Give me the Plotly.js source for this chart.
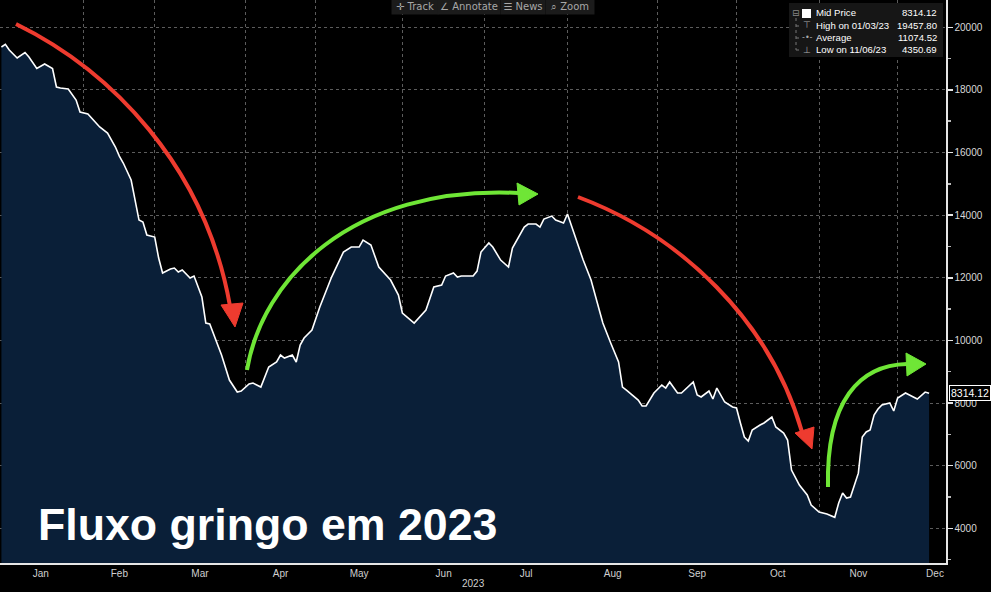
<!DOCTYPE html>
<html><head><meta charset="utf-8">
<script src="https://cdn.plot.ly/plotly-3.0.1.min.js"></script>
<style>html,body{margin:0;padding:0;background:#000;}#chart{width:991px;height:592px;}</style>
</head><body><div id="chart"></div>
<script>
// ---- data (x = B3 trading-day index of 2023, 0 = Jan 2) ----
const tradingDay = [1,2,3,5,7,8,10,12,14,15,16,18,20,21,23,26,28,30,31,32,34,35,36,37,38,40,41,42,44,45,46,47,49,50,51,52,53,54,57,59,61,62,64,65,67,69,71,72,73,75,76,77,78,80,82,85,88,90,92,93,95,97,100,102,103,106,109,111,113,114,116,117,118,121,122,123,125,126,128,130,131,134,135,137,138,139,141,142,144,145,147,149,151,154,156,158,159,160,163,164,165,167,169,170,171,173,174,177,178,179,181,182,183,185,187,188,189,190,191,192,194,195,197,198,200,201,202,204,206,207,209,210,211,213,214,215,216,217,219,220,221,222,223,224,225,227,228,229,231,232,234,236,237];
const midPrice = [19371,19458,19275,19019,19195,19050,18684,18828,18684,18093,18061,18029,17678,17295,17231,16816,16624,16177,15889,15666,15123,14484,13845,13781,13366,13302,12631,12152,12280,12312,12184,12248,11992,12056,11750,11386,10555,10524,9534,8735,8352,8384,8608,8640,8512,9151,9311,9534,9438,9534,9311,9852,10078,10333,11068,12024,12822,12982,12982,13206,13046,12344,11929,11450,10875,10555,10971,11705,11769,12056,12152,12024,12056,12056,12216,12822,13110,12982,12567,12344,12950,13621,13717,13717,13621,13876,13972,13845,13749,14036,13302,12567,11929,10555,9917,9311,8512,8416,8097,7906,7906,8321,8576,8480,8672,8321,8321,8672,8257,8193,8384,8129,8480,8033,7874,7842,7363,6916,6788,7139,7299,7363,7555,7235,7044,6820,5862,5383,5064,4744,4521,4489,4457,4351,4808,5128,4968,5000,5760,6916,7076,7139,7618,7810,7938,8001,7746,8161,8321,8257,8129,8352,8314.12];
const monthNames = ['Jan','Feb','Mar','Apr','May','Jun','Jul','Aug','Sep','Oct','Nov','Dec'];
const monthStartDay = [0,22,40,63,81,103,124,145,168,188,209,229];
const monthEndDay = 248;
const yearLabel = '2023';
const statsLabels = ['Mid Price','High on 01/03/23','Average','Low on 11/06/23'];
const statsValues = ['8314.12','19457.80','11074.52','4350.69'];
const toolbarItems = ['\u271B Track','\u2220 Annotate','\u2630 News','\u2315 Zoom'];
const chartTitle = 'Fluxo gringo em 2023';

// ---- layout helpers ----
const FONT = 'Liberation Sans, Arial, sans-serif';
const W = 946, H = 563;
const px = x => x / W;
const py = y => (H - y) / H;
const monthMid = monthNames.map((m, i) => ((monthStartDay[i]) + (i + 1 < monthStartDay.length ? monthStartDay[i + 1] : monthEndDay)) / 2);

function cubic(p0, c1, c2, p3) {
  return `M ${px(p0[0])},${py(p0[1])} C ${px(c1[0])},${py(c1[1])} ${px(c2[0])},${py(c2[1])} ${px(p3[0])},${py(p3[1])}`;
}
function tri(a, b, c) {
  return `M ${px(a[0])},${py(a[1])} L ${px(b[0])},${py(b[1])} L ${px(c[0])},${py(c[1])} Z`;
}
const RED = '#ee3b2f', GREEN = '#6fe636';
function arrow(curve, head, color) {
  return [
    {type: 'path', xref: 'paper', yref: 'paper', path: cubic(curve[0], curve[1], curve[2], curve[3]), line: {color: color, width: 4}, layer: 'above'},
    {type: 'path', xref: 'paper', yref: 'paper', path: tri(head[0], head[1], head[2]), fillcolor: color, line: {color: color, width: 1}, layer: 'above'}
  ];
}

const shapes = [].concat(
  arrow([[16,24],[110,70],[205,165],[230,306]], [[235,327],[221,305],[243,303]], RED),
  arrow([[247,370],[262,280],[350,185],[519,193]], [[538,194],[517,183],[519,205]], GREEN),
  arrow([[578,197],[680,235],[770,320],[802,432]], [[812,449],[795,433],[814,427]], RED),
  arrow([[828,487],[826,400],[860,365],[907,364]], [[926,364],[906,353],[907,376]], GREEN),
  [
    // stats box
    {type: 'rect', xref: 'paper', yref: 'paper', x0: px(789), x1: px(943), y0: py(57), y1: py(3), fillcolor: '#161616', line: {width: 0}, layer: 'above'},
    {type: 'rect', xref: 'paper', yref: 'paper', x0: px(802), x1: px(811), y0: py(18), y1: py(9), fillcolor: '#ffffff', line: {width: 0}, layer: 'above'},
    {type: 'line', xref: 'paper', yref: 'paper', x0: px(796), x1: px(796), y0: py(18), y1: py(50), line: {color: '#777', width: 1, dash: 'dot'}, layer: 'above'},
    {type: 'line', xref: 'paper', yref: 'paper', x0: px(796), x1: px(801), y0: py(26), y1: py(26), line: {color: '#777', width: 1, dash: 'dot'}, layer: 'above'},
    {type: 'line', xref: 'paper', yref: 'paper', x0: px(796), x1: px(801), y0: py(38), y1: py(38), line: {color: '#777', width: 1, dash: 'dot'}, layer: 'above'},
    {type: 'line', xref: 'paper', yref: 'paper', x0: px(796), x1: px(801), y0: py(50), y1: py(50), line: {color: '#777', width: 1, dash: 'dot'}, layer: 'above'}
  ]
);

const rowsY = [13, 25.5, 37.5, 49.5];
const icons = ['\u229F', '\u22A4', '-\u2022-', '\u22A5'];
const annotations = [];
statsLabels.forEach((lab, i) => {
  annotations.push({xref: 'paper', yref: 'paper', x: px(814), y: py(rowsY[i]), xanchor: 'left', yanchor: 'middle', text: lab, showarrow: false, font: {family: FONT, size: 9.6, color: '#ffffff'}});
  annotations.push({xref: 'paper', yref: 'paper', x: px(939), y: py(rowsY[i]), xanchor: 'right', yanchor: 'middle', text: statsValues[i], showarrow: false, font: {family: FONT, size: 9.6, color: '#ffffff'}});
});
annotations.push({xref: 'paper', yref: 'paper', x: px(796), y: py(13), xanchor: 'center', yanchor: 'middle', text: icons[0], showarrow: false, font: {family: 'DejaVu Sans', size: 9, color: '#888'}});
annotations.push({xref: 'paper', yref: 'paper', x: px(807), y: py(25.5), xanchor: 'center', yanchor: 'middle', text: icons[1], showarrow: false, font: {family: 'DejaVu Sans', size: 9, color: '#aaa'}});
annotations.push({xref: 'paper', yref: 'paper', x: px(807), y: py(37.5), xanchor: 'center', yanchor: 'middle', text: icons[2], showarrow: false, font: {family: 'DejaVu Sans', size: 8, color: '#aaa'}});
annotations.push({xref: 'paper', yref: 'paper', x: px(807), y: py(49.5), xanchor: 'center', yanchor: 'middle', text: icons[3], showarrow: false, font: {family: 'DejaVu Sans', size: 9, color: '#aaa'}});

// toolbar
const tbX = [415, 469, 523, 570], tbW = [44, 60, 42, 46];
toolbarItems.forEach((t, i) => {
  annotations.push({xref: 'paper', yref: 'paper', x: px(tbX[i]), y: py(6.5), xanchor: 'center', yanchor: 'middle', text: t, showarrow: false, width: tbW[i], height: 13, bgcolor: '#1b1b1b', font: {family: 'DejaVu Sans, ' + FONT, size: 10, color: '#a8a8a8'}});
});

// last value tag
annotations.push({xref: 'paper', yref: 'y', x: 1, xshift: 3, y: midPrice[midPrice.length - 1], xanchor: 'left', yanchor: 'middle', text: midPrice[midPrice.length - 1].toFixed(2), showarrow: false, bgcolor: '#000', bordercolor: '#ffffff', borderwidth: 1, borderpad: 1, font: {family: FONT, size: 10.5, color: '#ffffff'}});
// year
annotations.push({xref: 'paper', yref: 'paper', x: px(473), y: py(583), xanchor: 'center', yanchor: 'middle', text: yearLabel, showarrow: false, font: {family: FONT, size: 10, color: '#cfcfcf'}});
// big title
annotations.push({xref: 'paper', yref: 'paper', x: px(36), y: py(524), xanchor: 'left', yanchor: 'middle', text: '<b>' + chartTitle + '</b>', showarrow: false, font: {family: FONT, size: 44.7, color: '#ffffff'}});

const trace = {
  type: 'scatter', mode: 'lines', x: tradingDay, y: midPrice,
  line: {color: '#ffffff', width: 1.6}, fill: 'tozeroy', fillcolor: '#0a1f38',
  hoverinfo: 'skip'
};

const layout = {
  width: 991, height: 592,
  margin: {l: 0, r: 45, t: 0, b: 29, pad: 0},
  paper_bgcolor: '#000', plot_bgcolor: '#000',
  showlegend: false,
  xaxis: {
    range: [0.64, 241.3], tickmode: 'array', tickvals: monthMid, ticktext: monthNames,
    ticks: '', showgrid: false, zeroline: false,
    showline: true, linecolor: '#e6e6e6', linewidth: 1.5,
    tickfont: {family: FONT, size: 10, color: '#cfcfcf'},
    minor: {tickmode: 'array', tickvals: monthStartDay.slice(1), showgrid: true, gridcolor: '#5c5c5c', griddash: 'dot', gridwidth: 1, ticks: ''},
    fixedrange: true
  },
  yaxis: {
    side: 'right', range: [2892, 20872], tick0: 0, dtick: 2000, tickformat: 'd',
    showgrid: true, gridcolor: '#5c5c5c', griddash: 'dot', gridwidth: 1, zeroline: false,
    showline: true, linecolor: '#e6e6e6', linewidth: 1.5,
    ticks: 'outside', ticklen: 5, tickcolor: '#e6e6e6', tickwidth: 1.5,
    minor: {dtick: 1000, ticks: 'outside', ticklen: 3, tickcolor: '#bbb', showgrid: false},
    tickfont: {family: FONT, size: 10, color: '#d8d8d8'},
    fixedrange: true
  },
  shapes: shapes,
  annotations: annotations
};

Plotly.newPlot('chart', [trace], layout, {displayModeBar: false, staticPlot: true});
</script></body></html>
